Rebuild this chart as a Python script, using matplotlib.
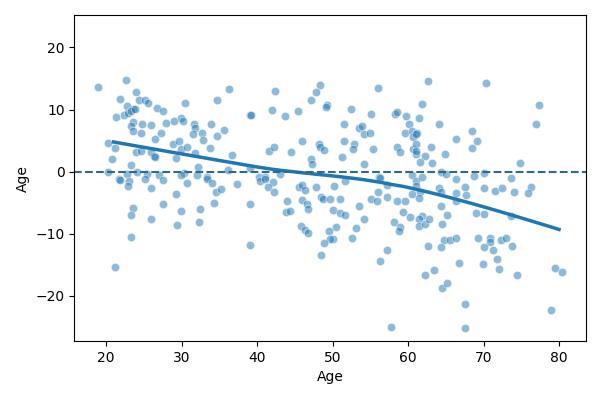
import numpy as np
import matplotlib
matplotlib.use("Agg")
import matplotlib.pyplot as plt

# age, residual pairs
age = [
    18.9, 22.7, 24.0, 21.9, 22.8, 23.5, 24.4, 25.2, 25.5, 21.3, 22.4, 22.9, 23.3, 23.8,
    26.8, 27.6, 30.5, 36.3, 34.7, 39.1, 23.6, 24.8, 25.9, 23.3, 23.6, 24.6, 27.9, 29.0,
    29.9, 30.2, 27.3, 31.6, 31.8, 32.7, 31.5, 32.9, 33.9, 35.6, 34.7, 20.3, 21.2, 20.8,
    26.5, 24.0, 24.6, 25.9, 26.3, 26.5, 28.9, 29.6, 29.9, 29.3, 30.7, 31.8, 33.7, 36.7,
    23.3, 20.2, 24.1, 22.8, 25.4, 27.0, 30.3, 29.9, 32.2, 32.0, 33.4, 36.1, 21.7, 39.1,
    21.8, 23.0, 22.9, 25.2, 25.9, 27.6, 23.5, 23.3, 26.0, 23.3, 21.2, 29.2, 27.6, 29.9,
    29.4, 30.7, 33.4, 34.0, 34.6, 35.2, 34.3, 32.4, 32.3, 37.4, 39.1, 39.1,
    39.2, 42.4, 42.0, 43.7, 45.4, 48.3, 47.8, 47.1, 49.2, 49.1, 52.4, 56.0, 55.1, 58.3,
    58.5, 59.7, 60.1, 51.5, 53.5, 53.9, 54.2, 54.9, 59.6, 60.5, 61.2, 60.6, 45.9, 48.2,
    48.4, 48.9, 51.5, 52.8, 52.7, 55.3, 41.6, 42.2, 44.5, 58.5, 58.9, 60.7, 61.0, 47.2,
    47.3, 51.2, 54.2, 43.0, 56.2, 40.3, 41.1,
    40.4, 41.1, 42.1, 41.4, 42.2, 43.9, 43.8, 44.4, 45.5, 45.9, 46.4, 47.8, 46.0, 46.6,
    46.8, 45.8, 46.4, 46.8, 48.5, 48.7, 49.7, 51.0, 50.2, 51.6, 50.0, 51.0, 51.6, 53.5,
    54.1, 50.4, 49.5, 50.0, 49.7, 48.9, 52.6, 53.1, 48.5, 55.1, 55.9, 56.0, 56.3, 57.2,
    57.2, 58.5, 59.6, 59.3, 60.3, 58.2, 58.9, 58.8, 57.2, 56.3, 57.8, 60.5, 60.5, 61.0,
    62.6, 70.3, 61.8, 77.4, 61.5, 77.0, 64.1, 61.1, 68.5, 66.4, 69.2, 61.1, 63.1, 68.5,
    61.0, 64.9, 62.2, 61.6, 63.2, 74.8, 64.4, 65.0, 70.1, 68.8, 61.9, 66.4, 73.7,
    67.5, 70.0, 71.5, 72.5, 74.0, 76.3, 75.9, 61.0, 61.6, 61.5, 64.1, 64.3, 66.3, 66.3,
    67.7, 64.3, 69.0, 70.0, 73.7, 65.1, 61.9, 61.5, 61.5, 62.3, 62.8, 64.5, 64.8, 65.5,
    66.3, 69.3, 70.9, 70.9, 72.3, 73.0, 62.7, 64.4, 70.0, 71.2, 73.8, 71.8, 72.0, 66.7,
    69.9, 62.2, 63.4, 74.4, 79.5, 80.4, 64.5, 65.2, 67.5, 78.9, 67.5,
]
resid = [
    13.7, 14.8, 12.9, 11.7, 10.6, 10.1, 11.5, 11.6, 11.0, 8.8, 9.1, 9.5, 9.8, 10.1,
    10.3, 9.8, 11.1, 13.3, 11.6, 9.2, 8.0, 7.7, 7.5, 7.4, 6.5, 6.2, 7.9, 8.2,
    8.7, 8.1, 6.3, 7.6, 7.1, 6.3, 6.1, 5.1, 7.7, 6.7, 5.8, 4.6, 3.8, 2.0,
    5.2, 3.1, 3.3, 3.2, 2.6, 2.4, 4.5, 4.9, 3.7, 2.2, 4.0, 3.0, 3.8, 2.7,
    1.1, 0.0, 0.0, -0.4, -0.4, -0.6, -0.2, -0.6, 0.7, -0.5, -0.9, 0.2, -1.2, 0.6,
    -1.3, -1.5, -2.3, -1.2, -2.6, -1.3, -5.8, -7.0, -7.6, -10.5, -15.4, -3.6, -5.2, -6.3,
    -8.6, -1.8, -1.2, -1.8, -3.2, -2.8, -5.1, -6.0, -8.1, -2.0, -5.2, -11.8,
    9.2, 13.0, 9.9, 9.0, 9.8, 14.0, 12.9, 11.6, 10.7, 10.4, 10.1, 13.5, 9.3, 9.3,
    9.6, 9.0, 7.6, 7.6, 7.0, 7.3, 6.0, 6.2, 6.2, 6.5, 6.2, 5.6, 4.9, 4.4,
    4.0, 3.5, 5.0, 4.5, 3.7, 3.7, 3.3, 4.0, 3.1, 3.9, 3.1, 3.7, 2.9, 2.1,
    1.2, 2.4, 1.2, -0.3, -0.9, -0.9, -0.9,
    -1.5, -1.1, -1.7, -2.5, -3.2, -4.8, -6.5, -6.3, -2.5, -2.1, -3.0, -2.4, -4.5, -5.2,
    -6.0, -8.7, -9.4, -9.9, -4.0, -4.4, -4.4, -4.4, -2.3, -1.5, -6.1, -6.6, -7.0, -5.5,
    -7.6, -8.9, -9.5, -10.8, -10.8, -11.5, -10.6, -9.1, -13.4, -4.4, -4.7, -3.2, -1.0, -4.0,
    -2.1, -4.8, -4.7, -6.5, -7.3, -8.1, -8.9, -9.5, -12.6, -14.4, -25.0, -3.6, -0.6, -1.5,
    14.6, 14.3, 10.9, 10.8, 8.7, 7.6, 7.7, 6.1, 6.5, 5.3, 4.9, 4.5, 3.9, 3.8,
    3.4, 2.9, 2.5, 1.5, 1.4, 1.4, -0.1, -0.3, -0.2, -0.7, -0.8, -1.2, -1.0,
    -2.4, -2.6, -3.1, -2.6, -3.3, -2.4, -3.4, -2.3, -3.3, -4.2, -2.6, -3.2, -3.4, -4.7,
    -3.8, -5.6, -6.7, -6.8, -7.2, -7.0, -7.2, -7.6, -8.7, -8.4, -7.6, -8.4, -11.0, -11.0,
    -10.7, -10.7, -10.7, -11.3, -11.0, -10.6, -11.9, -12.1, -12.2, -12.6, -11.9, -14.0, -15.6, -14.7,
    -14.9, -16.6, -15.9, -16.6, -15.5, -16.1, -18.8, -18.0, -21.3, -22.3, -25.2,
]

# the smooth in the reference only spans the un-jittered age range
fit_range = (21, 80)
x_ticks = [20, 30, 40, 50, 60, 70, 80]
y_ticks = [-20, -10, 0, 10, 20]


def lowess(x, y, frac=2 / 3, it=3):
    # plain tricube lowess with robustness iterations
    order = np.argsort(x)
    x = np.asarray(x, float)[order]
    y = np.asarray(y, float)[order]
    n = len(x)
    k = int(np.ceil(frac * n))
    fit = np.zeros(n)
    rob = np.ones(n)
    for _ in range(it + 1):
        for i in range(n):
            d = np.abs(x - x[i])
            h = np.sort(d)[k - 1]
            w = np.clip(d / h, 0, 1)
            w = (1 - w ** 3) ** 3 * rob
            sw = w.sum()
            mx = (w * x).sum() / sw
            my = (w * y).sum() / sw
            b = (w * (x - mx) * (y - my)).sum() / max((w * (x - mx) ** 2).sum(), 1e-12)
            fit[i] = my + b * (x[i] - mx)
        res = y - fit
        s = np.median(np.abs(res))
        u = np.clip(res / (6 * s), -1, 1)
        rob = (1 - u ** 2) ** 2
    return x, fit


fig, ax = plt.subplots(figsize=(6, 4), dpi=100)
fig.subplots_adjust(left=0.124, right=0.977, top=0.962, bottom=0.147)

ax.scatter(age, resid, s=36, color="C0", alpha=0.5, edgecolors="white", linewidths=0.6)
lx, ly = lowess(age, resid)
gx = np.linspace(fit_range[0], fit_range[1], 120)
ax.plot(gx, np.interp(gx, lx, ly), color="C0", lw=2.5)
ax.axhline(0, ls="--", color="#2f6a8e", lw=1.5)

ax.set_xlim(15.8, 83.6)
ax.set_ylim(-27.3, 25.2)
ax.set_xticks(x_ticks)
ax.set_yticks(y_ticks)
ax.set_xlabel("Age")
ax.set_ylabel("Age")

fig.savefig("out.png")
